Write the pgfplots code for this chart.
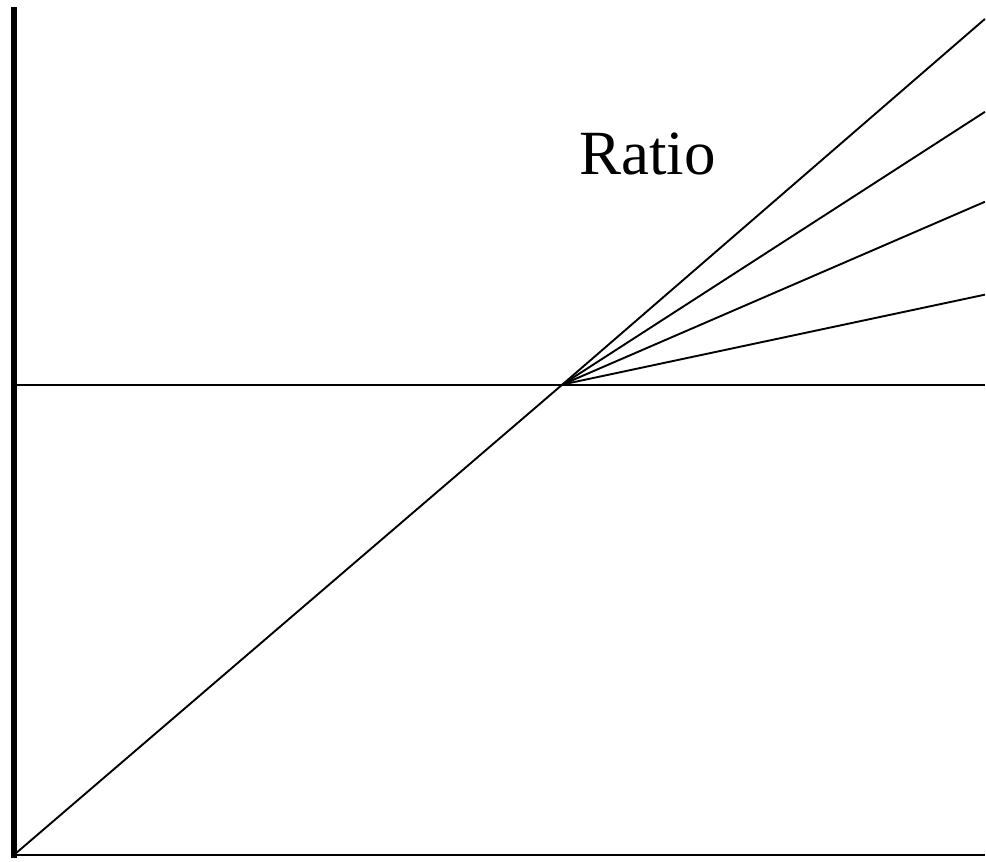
\documentclass[border=0pt]{standalone}
\usepackage{pgfplots}
\pgfplotsset{compat=1.18}
\usepackage{fontspec}
\setmainfont{Liberation Serif}
\begin{document}
\begin{tikzpicture}
\begin{axis}[
  scale only axis,
  width=493pt, height=429.5pt,
  xmin=0, xmax=986, ymin=0, ymax=859,
  hide axis, clip=false,
]
\path (rel axis cs:0,0) rectangle (rel axis cs:1,1);
% left axis (thick)
\addplot[black, line width=3pt, no marks] coordinates {(14,0) (14,852)};
% bottom axis
\addplot[black, line width=1.1pt, no marks] coordinates {(14,3) (986,3)};
% horizontal reference line
\addplot[black, line width=0.95pt, no marks] coordinates {(14,474) (986,474)};
% diagonal up to kink
\addplot[black, line width=0.95pt, no marks] coordinates {(15,4) (563,474)};
% fan lines
\addplot[black, line width=0.95pt, no marks] coordinates {(563,474) (986,840)};
\addplot[black, line width=0.95pt, no marks] coordinates {(563,474) (986,747)};
\addplot[black, line width=0.95pt, no marks] coordinates {(563,474) (986,657)};
\addplot[black, line width=0.95pt, no marks] coordinates {(563,474) (986,564)};
\node[anchor=base, inner sep=0pt, font=\fontsize{31.5}{36}\selectfont] at (axis cs:648,684) {Ratio};
\end{axis}
\end{tikzpicture}
\end{document}
